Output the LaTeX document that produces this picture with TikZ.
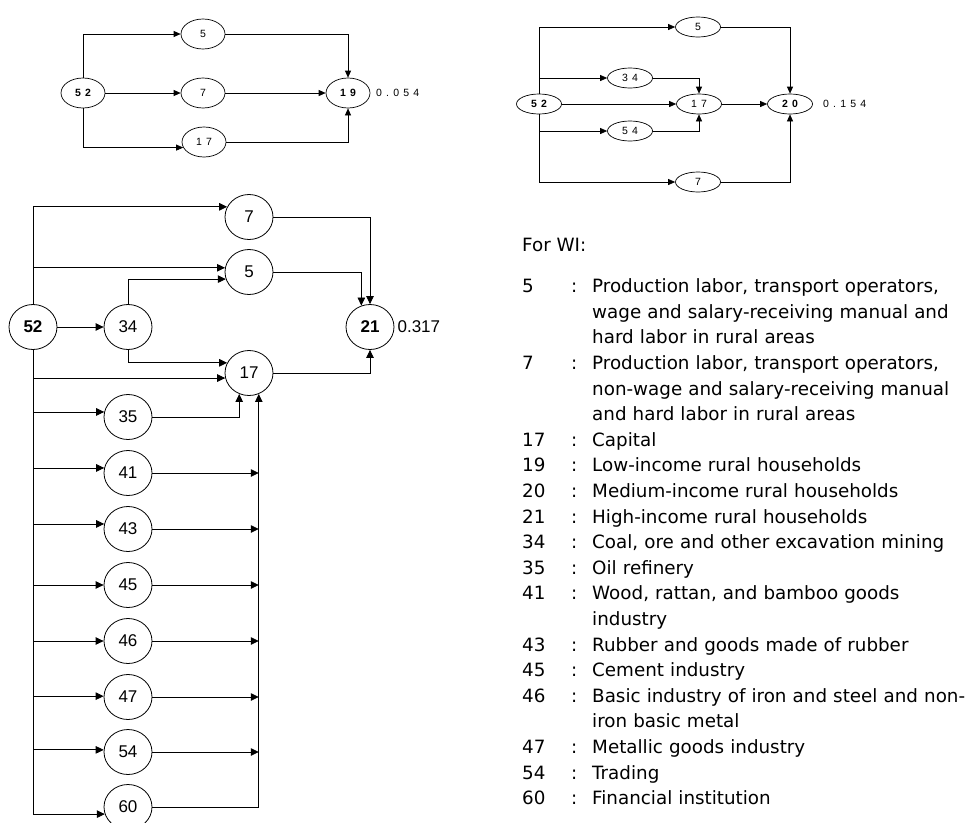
\documentclass[tikz,border=0pt]{standalone}
\usepackage{fontspec}
\usetikzlibrary{arrows.meta,shapes.geometric}
\newfontfamily\wiarial{Liberation Sans}
\newfontfamily\wispaced[LetterSpace=40]{Liberation Sans}
\newfontfamily\wilistfont{DejaVu Sans}
\newcommand\wiSmallFont{\wispaced\fontsize{10.5}{12}\selectfont}
\newcommand\wiBigFont{\wiarial\fontsize{17}{20}\selectfont}
\newcommand\wiListFont{\wilistfont\fontsize{18.3}{25.6}\selectfont}
\tikzset{
  winode/.style={draw, ellipse, inner sep=0pt, minimum width=48, minimum height=45,
                 line width=0.8pt, font=\wiBigFont},
  wihub/.style={winode, font=\wiBigFont\bfseries},
  wioval/.style={draw, ellipse, inner sep=0pt, minimum width=44, minimum height=30,
                 line width=0.7pt, font=\wiSmallFont},
  wiovalhub/.style={wioval, font=\wiSmallFont\bfseries},
  wiflat/.style={wioval, minimum width=45, minimum height=20},
  wiflathub/.style={wiflat, font=\wiSmallFont\bfseries},
  wiedge/.style={-{Triangle[length=8pt,width=7.5pt]}, line width=0.8pt},
  wiedgesmall/.style={-{Triangle[length=7pt,width=6pt]}, line width=0.7pt},
  wivalue/.style={anchor=west, inner sep=0pt, font=\wiSmallFont},
  wilist/.style={anchor=base west, inner sep=0pt, font=\wiListFont},
}
\begin{document}
\begin{tikzpicture}[x=1pt,y=-1pt]
  \useasboundingbox (0,0) rectangle (977,822);
  % top left: household 19
  \node[wiovalhub] (a52) at (83,93) {52};
  \node[wioval] (a5) at (203,34) {5};
  \node[wioval] (a7) at (203,93) {7};
  \node[wioval] (a17) at (204,142) {17};
  \node[wiovalhub] (a19) at (348,93) {19};
  \node[wivalue] (a19val) at (376,93) {0.054};
  \draw[wiedgesmall] (a52.north) |- (a5.west);
  \draw[wiedgesmall] (a52.east) -- (a7.west);
  \draw[wiedgesmall] (a52.south) |- (a17.195);
  \draw[wiedgesmall] (a5.east) -| (a19.north);
  \draw[wiedgesmall] (a7.east) -- (a19.west);
  \draw[wiedgesmall] (a17.east) -| (a19.south);

  % top right: household 20
  \node[wiflathub] (c52) at (539,104) {52};
  \node[wiflat] (c5) at (698,27) {5};
  \node[wiflat] (c34) at (630,78) {34};
  \node[wiflat] (c17) at (699,104) {17};
  \node[wiflat] (c54) at (630,131) {54};
  \node[wiflat] (c7) at (698,182) {7};
  \node[wiflathub] (c20) at (790,104) {20};
  \node[wivalue] (c20val) at (823,104) {0.154};
  \draw[wiedgesmall] (c52.north) |- (c5.west);
  \draw[wiedgesmall] (c52.north) |- (c34.west);
  \draw[wiedgesmall] (c52.east) -- (c17.west);
  \draw[wiedgesmall] (c52.south) |- (c54.west);
  \draw[wiedgesmall] (c52.south) |- (c7.west);
  \draw[wiedgesmall] (c34.east) -| (c17.north);
  \draw[wiedgesmall] (c54.east) -| (c17.south);
  \draw[wiedgesmall] (c17.east) -- (c20.west);
  \draw[wiedgesmall] (c5.east) -| (c20.north);
  \draw[wiedgesmall] (c7.east) -| (c20.south);

  % bottom: household 21
  \node[wihub] (b52) at (33,327) {52};
  \node[winode] (b7) at (249,217) {7};
  \node[winode] (b5) at (249,272) {5};
  \node[winode] (b34) at (128,327) {34};
  \node[winode] (b17) at (249,373) {17};
  \node[wihub] (b21) at (370,327) {21};
  \node[anchor=west, inner sep=0pt, font=\wiBigFont] (b21val) at ([xshift=3pt]b21.east) {0.317};
  \draw[wiedge] (b52.north) |- (b7.155);
  \draw[wiedge] (b52.north) |- (b5.170);
  \draw[wiedge] (b52.east) -- (b34.west);
  \draw[wiedge] (b34.north) |- (b5.197);
  \draw[wiedge] (b34.south) |- (b17.155);
  \draw[wiedge] (b52.south) |- (b17.192);
  \foreach \k/\y/\a in {35/417/168,41/473/168,43/529/168,45/585/180,
                        46/641/180,47/697/178,54/752/175,60/807/197}
    {\node[winode] (b\k) at (128,\y) {\k};
     \draw[wiedge] (b52.south) |- (b\k.\a);}
  \coordinate (bus) at (b17.295);
  \draw[wiedge] (b35.east) -| (b17.245);
  \foreach \k in {41,43,45,46,47,54}
    {\draw[wiedge] (b\k.east) -- (b\k.east -| bus);}
  \draw[wiedge] (b60.east) -| (bus);
  \draw[wiedge] (b7.east) -| (b21.north);
  \draw[wiedge] (b5.east) -| (b21.112);
  \draw[wiedge] (b17.east) -| (b21.south);

  % legend
  \node[wilist] (keyhead) at (522,251) {For WI:};
  \foreach \num/\row/\txt in {
      5/0/{Production labor, transport operators,\\wage and salary-receiving manual and\\hard labor in rural areas},
      7/3/{Production labor, transport operators,\\non-wage and salary-receiving manual\\and hard labor in rural areas},
      17/6/{Capital},
      19/7/{Low-income rural households},
      20/8/{Medium-income rural households},
      21/9/{High-income rural households},
      34/10/{Coal, ore and other excavation mining},
      35/11/{Oil refinery},
      41/12/{Wood, rattan, and bamboo goods\\industry},
      43/14/{Rubber and goods made of rubber},
      45/15/{Cement industry},
      46/16/{Basic industry of iron and steel and non-\\iron basic metal},
      47/18/{Metallic goods industry},
      54/19/{Trading},
      60/20/{Financial institution}}
    {\node[wilist] (key\num) at (522,292.6+25.6*\row) {\num};
     \node[wilist] (colon\num) at (571,292.6+25.6*\row) {:};
     \node[wilist, text width=385pt, align=left] (text\num) at (592,292.6+25.6*\row) {\txt};}
\end{tikzpicture}
\end{document}
